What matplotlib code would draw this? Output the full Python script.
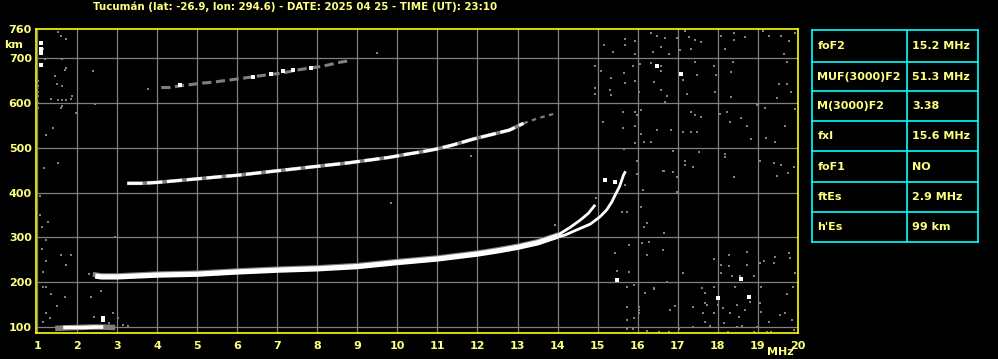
import matplotlib.pyplot as plt
import numpy as np

# Cabeçalho e parâmetros
title = "Tucumán (lat: -26.9, lon: 294.6) - DATE: 2025 04 25 - TIME (UT): 23:10"
param_names = ["foF2", "MUF(3000)F2", "M(3000)F2", "fxI", "foF1", "ftEs", "h'Es"]
param_values = ["15.2 MHz", "51.3 MHz", "3.38", "15.6 MHz", "NO", "2.9 MHz", "99 km"]

freq_ticks = list(range(1, 21))
height_ticks = [100, 200, 300, 400, 500, 600, 700]

# Traço F2 (parte comum, modo ordinário, modo extraordinário)
f_main = [2.45, 2.6, 3.0, 4.0, 5.0, 6.0, 7.0, 8.0, 9.0, 10.0, 11.0, 12.0, 12.5, 13.0, 13.5, 14.0]
h_main = [214, 212, 212, 216, 218, 223, 227, 230, 235, 244, 252, 263, 270, 278, 288, 303]
f_o = [14.0, 14.32, 14.57, 14.77, 14.94]
h_o = [305, 323, 339, 354, 373]
f_x = [13.9, 14.2, 14.48, 14.82, 15.07, 15.23, 15.36, 15.44, 15.55, 15.65, 15.7]
h_x = [298, 306, 317, 330, 347, 362, 380, 395, 414, 440, 448]

# Segundo eco (2F)
f_2f = [3.25, 3.6, 4.0, 4.5, 5.0, 5.6, 6.0, 6.6, 7.0, 7.6, 8.0, 8.8, 9.3, 9.8, 10.3, 10.65, 11.0, 11.4, 11.9, 12.4, 12.8, 13.15]
h_2f = [421, 421, 423, 427, 431, 436, 439, 445, 449, 455, 459, 467, 473, 479, 487, 492, 498, 507, 520, 531, 540, 555]
f_2f_tail = [13.15, 13.5, 13.9]
h_2f_tail = [555, 566, 576]

# Terceiro eco (3F)
f_3f = [4.1, 4.3, 4.6, 5.15, 5.4, 5.65, 6.0, 6.4, 6.8, 7.1, 7.5, 7.7, 8.1, 8.6, 8.75]
h_3f = [635, 635, 639, 645, 647, 650, 654, 659, 664, 667, 674, 677, 682, 692, 694]
f_3f_white = [4.57, 6.38, 6.83, 7.13, 7.39, 7.84]
h_3f_white = [641, 659, 665, 671, 674, 678]

# Camada Es
f_es_gray = [1.45, 1.7, 2.0, 2.3, 2.6, 2.95]
h_es_gray = [97, 98, 99, 100, 100, 99]
f_es = [1.65, 1.9, 2.2, 2.45, 2.65]
h_es = [99, 99, 99, 100, 100]

# Ruído (pontos cinza)
noise_f = [15.15, 15.39, 15.69, 15.69, 15.94, 15.94, 16.34, 16.49, 16.69, 16.58, 16.39, 16.79, 16.98, 17.19,
           17.28, 17.44, 17.59, 17.07, 17.34, 18.09, 18.4, 18.4, 18.69, 18.19, 19.13, 19.29, 19.59, 19.79,
           19.94, 19.67, 14.94, 15.09, 15.34, 15.65, 15.88, 16.05, 15.94, 15.69, 14.94, 14.94, 15.3, 15.34,
           16.03, 16.34, 16.59, 16.59, 16.4, 16.59, 16.74, 16.69, 17.09, 17.14, 17.44, 17.48, 17.24, 17.9,
           17.97, 17.94, 18.34, 18.39, 18.34, 18.98, 19.19, 19.49, 19.53, 19.73, 19.84, 19.73, 15.63, 15.63,
           15.13, 15.94, 15.99, 15.94, 16.09, 16.09, 15.94, 16.15, 16.34, 16.49, 16.84, 17.14, 17.34, 17.44,
           17.59, 17.34, 17.48, 18.05, 18.23, 18.3, 18.59, 18.74, 18.84, 19.21, 19.44, 19.69, 19.94, 15.65,
           16.88, 17.19, 17.18, 17.39, 17.53, 18.19, 18.19, 18.42, 19.05, 19.42, 19.59, 19.49, 19.76, 19.92,
           16.65, 16.88, 15.99,
           15.44, 15.48, 15.79, 15.9, 15.73, 16.23, 16.63, 16.74, 16.4, 16.19, 17.14, 16.94, 16.8, 16.03,
           16.03, 16.03, 15.73, 15.73, 15.9, 15.73, 15.88, 16.23, 16.53, 16.78, 17.04, 17.39, 17.39, 17.9,
           18.08, 18.08, 18.28, 18.28, 18.73, 18.73, 18.36, 18.57, 18.9, 17.61, 17.69, 17.9, 17.69, 17.74,
           17.64, 17.9, 17.69, 17.82, 18.02, 18.13, 18.32, 18.48, 18.53, 18.44, 18.69, 18.8, 18.15, 18.26,
           18.48, 18.61, 18.9, 18.98, 19.08, 19.07, 19.08, 19.05, 19.15, 19.44, 19.4, 19.78, 19.82, 19.94,
           19.88, 19.74, 19.69, 19.57, 19.86, 19.28, 19.33, 19.24, 19.9,
           16.63, 16.98, 16.98, 16.14, 15.73, 15.61, 16.09, 16.24, 16.15, 16.28, 16.65, 16.63, 16.11, 16.23,
           15.78, 16.4, 15.44, 15.69, 15.99, 14.97, 13.94,
           1.53, 1.59, 1.73, 1.14, 1.19, 1.63, 1.73, 1.69, 1.44, 1.49, 1.63, 2.39, 1.03, 1.03, 1.03, 1.03,
           1.34, 1.53, 1.63, 1.73, 1.86, 1.84, 1.03, 1.03, 1.63, 1.59, 2.44, 1.98, 3.78,
           1.59, 1.84, 1.23, 1.73, 1.14, 1.15, 1.23, 1.34, 1.69, 1.49, 1.23, 1.32, 1.14, 2.34, 2.59, 2.89,
           3.03, 3.28, 3.15, 2.43, 1.22, 1.39, 1.17, 1.52, 1.07, 1.07, 1.27, 1.12, 1.22, 1.12,
           9.48, 2.94, 9.84, 11.84, 13.94, 2.3, 2.5, 2.7, 2.8]
noise_h = [731, 715, 744, 731, 739, 709, 757, 751, 746, 725, 714, 710, 746, 762,
           748, 741, 736, 718, 721, 750, 757, 741, 748, 721, 762, 750, 750, 739,
           757, 709, 684, 671, 657, 667, 683, 688, 649, 645, 634, 621, 630, 619,
           626, 689, 684, 671, 648, 630, 617, 602, 665, 652, 692, 662, 621, 684,
           662, 626, 669, 692, 613, 596, 589, 611, 643, 692, 626, 643, 581, 544,
           559, 581, 574, 550, 585, 531, 511, 514, 514, 541, 541, 536, 581, 574,
           569, 536, 536, 576, 581, 559, 567, 548, 519, 522, 513, 549, 586, 498,
           494, 470, 462, 457, 492, 487, 479, 435, 470, 466, 462, 438, 444, 457,
           449, 447, 470,
           266, 226, 224, 194, 190, 261, 271, 201, 185, 177, 221, 148, 138, 145,
           138, 131, 144, 116, 120, 95, 95, 92, 90, 90, 95, 101, 144, 251,
           239, 220, 261, 236, 239, 268, 214, 214, 213, 187, 177, 190, 154, 149,
           131, 131, 112, 102, 149, 142, 132, 149, 123, 190, 138, 157, 108, 90,
           99, 102, 90, 99, 134, 153, 190, 244, 248, 257, 244, 266, 254, 221,
           190, 173, 131, 127, 116, 112, 90, 90, 93,
           449, 436, 402, 405, 356, 356, 369, 333, 323, 291, 311, 272, 287, 261,
           283, 187, 425, 417, 442, 388, 328,
           758, 749, 744, 721, 698, 698, 678, 674, 661, 643, 639, 671, 650, 638, 626, 615,
           609, 607, 607, 607, 615, 609, 600, 589, 594, 589, 598, 578, 631,
           261, 261, 248, 239, 224, 190, 190, 173, 168, 147, 131, 120, 112, 168, 181, 131,
           120, 102, 105, 123, 529, 545, 455, 467, 393, 350, 335, 323, 295, 274,
           713, 302, 378, 483, 328, 218, 219, 217, 108]

# Pontos brancos isolados
white_f = [1.09, 1.09, 1.09, 1.09, 16.49, 17.09, 15.48, 18.59, 18.02, 18.78, 15.19, 15.44, 2.64, 2.65]
white_h = [734, 721, 712, 686, 684, 665, 205, 207, 164, 168, 429, 425, 120, 116]

yellow = "#ffff80"
gray = "#808080"
plt.rcParams["font.family"] = ["DejaVu Sans"]
plt.rcParams["font.weight"] = "bold"

W, H = 998, 359
fig = plt.figure(figsize=(W / 100, H / 100), dpi=100, facecolor="black")
ax = fig.add_axes([36 / W, (H - 333) / H, (797.7 - 36) / W, (333 - 29.3) / H], facecolor="black")
ax.set_xlim(0.97, 20)
ax.set_ylim(86.7, 765)

for s in ax.spines.values():
    s.set_color("#ffff00")
    s.set_linewidth(1.2)

ax.set_xticks(freq_ticks)
ax.set_yticks(height_ticks)
ax.tick_params(length=0, colors=yellow, labelsize=8, pad=6)
ax.tick_params(axis="y", pad=3)
for lab in ax.get_xticklabels() + ax.get_yticklabels():
    lab.set_fontweight("bold")
ax.grid(True, color=gray, linewidth=0.9)
ax.set_axisbelow(True)

ax.text(-0.006, 763, "760", transform=ax.get_yaxis_transform(), ha="right", va="center",
        color=yellow, fontsize=8, fontweight="bold")
ax.text(-0.029, 729, "km", transform=ax.get_yaxis_transform(), ha="center", va="center",
        color=yellow, fontsize=8, fontweight="bold")
fig.text(780 / W, 1 - 352 / H, "MHz", ha="center", va="center", color=yellow, fontsize=8, fontweight="bold")
fig.text(295 / W, 1 - 7 / H, title, ha="center", va="center", color=yellow, fontsize=7.4, fontweight="bold")

# ruído
ax.plot(noise_f, noise_h, "s", color=gray, markersize=2.0, markeredgewidth=0, antialiased=False, zorder=2)

# Es
ax.plot(f_es_gray, h_es_gray, color=gray, linewidth=4, solid_capstyle="butt", zorder=3)
ax.plot(f_es, h_es, color="white", linewidth=2.6, solid_capstyle="butt", zorder=4)

# 3F
ax.plot(f_3f, h_3f, color=gray, linewidth=2.2, dashes=(3, 1.5), solid_capstyle="butt", zorder=3)
ax.plot(f_3f_white, h_3f_white, "s", color="white", markersize=2.2, markeredgewidth=0, zorder=4)

# 2F
ax.plot(f_2f, h_2f, color=gray, linewidth=2.6, solid_capstyle="butt", zorder=3)
ax.plot(f_2f, h_2f, color="white", linewidth=2.2, dashes=(5, 1.5), solid_capstyle="butt", zorder=4)
ax.plot(f_2f_tail, h_2f_tail, color=gray, linewidth=1.6, dashes=(2, 2), zorder=3)

# F2
ax.plot(f_main, [h + 3 for h in h_main], color=gray, linewidth=3.5, zorder=3)
ax.plot(f_main, h_main, color="white", linewidth=3.8, solid_capstyle="butt", zorder=5)
ax.plot(f_o, h_o, color="white", linewidth=2.0, solid_capstyle="butt", zorder=5)
ax.plot(f_x, h_x, color="white", linewidth=2.0, solid_capstyle="butt", zorder=5)

ax.plot(white_f, white_h, "s", color="white", markersize=2.2, markeredgewidth=0, zorder=6)

# Tabela de parâmetros
tx0, tx1, tsplit = 812.3, 977.7, 907.3
row_edges = [30.3, 61.7, 91.3, 121.3, 151.3, 182.3, 212.3, 242.3]
tab = fig.add_axes([0, 0, 1, 1], facecolor="none")
tab.set_xlim(0, W)
tab.set_ylim(H, 0)
tab.axis("off")
cyan = "#00ffff"
for y in row_edges:
    tab.plot([tx0, tx1], [y, y], color=cyan, linewidth=1.2)
for x in (tx0, tsplit, tx1):
    tab.plot([x, x], [row_edges[0], row_edges[-1]], color=cyan, linewidth=1.2)
for i, (name, val) in enumerate(zip(param_names, param_values)):
    yc = (row_edges[i] + row_edges[i + 1]) / 2
    tab.text(817.5, yc, name, color=yellow, fontsize=8, fontweight="bold", va="center", ha="left")
    tab.text(912.5, yc, val, color=yellow, fontsize=8, fontweight="bold", va="center", ha="left")

fig.savefig("out.png", dpi=100, facecolor="black")
